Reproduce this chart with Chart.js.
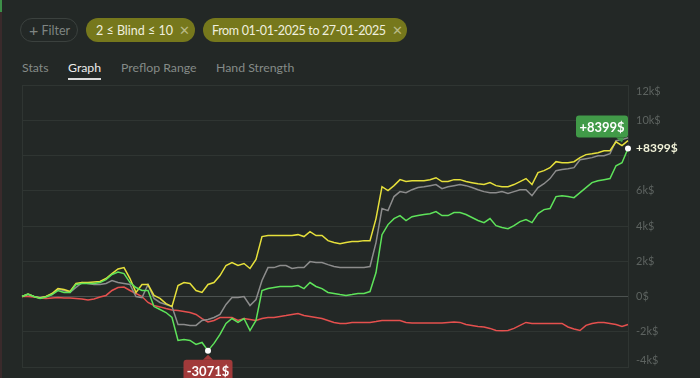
<!DOCTYPE html>
<html>
<head>
<meta charset="utf-8">
<script src="https://cdn.jsdelivr.net/npm/chart.js@4.4.1/dist/chart.umd.min.js"></script>
<style>
  html, body { margin: 0; padding: 0; background: #232826; }
  body { width: 700px; height: 378px; position: relative; overflow: hidden; font-family: Lato, "Noto Sans", sans-serif; }
  #graph { position: absolute; left: 0; top: 0; }
  .edge { position: absolute; left: 0; width: 2px; }
  .pill { position: absolute; top: 18px; height: 24px; border-radius: 12px; box-sizing: border-box;
          font-size: 12.5px; line-height: 24px; white-space: nowrap; }
  .pill.outline { border: 1px solid #3b413e; color: #7f8582; line-height: 22px; }
  .pill.on { background: #76781c; color: #efefdf; }
  .pill .x { color: #b9ba86; margin-left: 6px; font-size: 13px; }
  .tab { position: absolute; top: 60px; font-size: 12.3px; color: #858b88; }
  .tab.active { color: #ececec; }
  .tab.active::after { content: ""; position: absolute; left: 0; right: 0; top: 18px; height: 2px; background: #dcdcdc; }
</style>
</head>
<body>
<div class="edge" style="top:0;height:12px;background:#3d8f48"></div>
<div class="edge" style="top:12px;height:366px;background:#3a2a2b"></div>

<div class="pill outline" style="left:20px;width:58px;padding-left:8px"><span style="font-size:16px;vertical-align:-1px">+</span> Filter</div>
<div class="pill on" style="left:86px;width:109px;padding-left:10px">2 ≤ Blind ≤ 10<span class="x">✕</span></div>
<div class="pill on" style="left:203px;width:204px;padding-left:9px;letter-spacing:-0.35px">From 01-01-2025 to 27-01-2025<span class="x">✕</span></div>

<div class="tab" style="left:22px">Stats</div>
<div class="tab active" style="left:68px">Graph</div>
<div class="tab" style="left:121px">Preflop Range</div>
<div class="tab" style="left:216px">Hand Strength</div>

<canvas id="graph" width="700" height="378"></canvas>

<script>
// результаты по раздачам, k$
const netWon = [
  0, 0.14, 0, -0.11, -0.03, 0.11, 0.34, 0.23, 0.23, 0.68,
  0.74, 0.74, 0.74, 0.79, 0.96, 1.25, 1.39, 1.30, 0.79, 0.51,
  0.34, 0.34, -0.57, -0.74, -0.91, -1.19, -2.49, -2.44, -2.49, -2.72,
  -2.61, -3.071, -2.66, -2.15, -1.53, -1.25, -1.47, -1.25, -1.93, -1.36,
  0.34, 0.45, 0.51, 0.57, 0.57, 0.57, 0.62, 0.45, 0.79, 0.57,
  0.45, 0.23, 0.17, 0.11, 0.06, 0.11, 0.17, 0.17, 0.28, 1.36,
  3.51, 4.08, 4.42, 4.59, 4.31, 4.53, 4.59, 4.65, 4.70, 4.82,
  4.59, 4.59, 4.76, 4.76, 4.65, 4.48, 4.31, 4.19, 4.42, 4.02,
  3.91, 3.85, 4.02, 4.25, 4.36, 4.19, 4.70, 4.93, 4.99, 5.67,
  5.72, 5.67, 5.61, 5.89, 6.18, 6.46, 6.57, 6.63, 6.69, 7.42,
  7.59, 8.399
];
const showdown = [
  0, 0.14, 0, -0.08, 0, 0.17, 0.45, 0.40, 0.28, 0.74,
  0.79, 0.79, 0.82, 0.85, 1.02, 1.30, 1.56, 1.64, 1.02, 0.23,
  0.68, 0.68, 0.06, -0.11, -0.40, -0.57, 0.62, 0.79, 0.74, 0.34,
  0.23, 0.68, 0.79, 1.19, 1.76, 1.93, 1.76, 1.87, 1.59, 2.10,
  3.40, 3.46, 3.46, 3.46, 3.46, 3.46, 3.51, 3.40, 3.68, 3.46,
  3.46, 3.17, 3.06, 3.00, 3.06, 3.12, 3.12, 3.17, 3.17, 4.42,
  6.23, 6.01, 6.29, 6.63, 6.52, 6.57, 6.57, 6.57, 6.63, 6.74,
  6.52, 6.52, 6.63, 6.63, 6.52, 6.46, 6.40, 6.35, 6.46, 6.29,
  6.23, 6.23, 6.35, 6.52, 6.69, 6.35, 7.03, 7.14, 7.31, 7.65,
  7.59, 7.59, 7.65, 7.88, 8.05, 8.10, 8.16, 8.27, 8.27, 8.78,
  8.56, 8.84
];
const allInEV = [
  0, 0.11, 0, -0.06, 0, 0.11, 0.42, 0.34, 0.23, 0.51,
  0.79, 0.74, 0.68, 0.68, 0.74, 0.91, 0.79, 0.74, 0.68, 0,
  -0.06, 0.68, -0.11, -0.34, -0.45, -0.57, -1.59, -1.59, -1.64, -1.64,
  -1.36, -1.30, -1.19, -1.02, -0.45, -0.06, -0.06, 0, -0.51, -0.17,
  0.91, 1.64, 1.64, 1.76, 1.76, 1.59, 1.64, 1.64, 1.98, 1.93,
  1.93, 1.81, 1.70, 1.64, 1.64, 1.64, 1.64, 1.64, 1.70, 3.06,
  4.99, 4.87, 5.67, 5.95, 5.89, 6.06, 6.18, 6.23, 6.29, 6.35,
  6.12, 6.23, 6.29, 6.35, 6.29, 6.18, 6.06, 5.95, 5.89, 5.89,
  5.95, 5.84, 5.95, 6.06, 6.06, 5.72, 6.18, 6.40, 6.69, 7.14,
  7.20, 7.25, 7.31, 7.76, 7.82, 7.88, 7.99, 7.99, 8.10, 8.84,
  8.90, 9.01
];
const nonShowdown = [
  0, 0, -0.03, -0.08, -0.11, -0.08, -0.06, -0.08, -0.08, -0.11,
  -0.14, -0.20, -0.14, -0.03, 0.06, 0.34, 0.51, 0.54, 0.34, 0.17,
  0, -0.34, -0.51, -0.59, -0.68, -0.76, -0.79, -0.85, -0.91, -1.02,
  -1.25, -1.44, -1.36, -1.19, -1.19, -1.19, -1.36, -1.25, -1.30, -1.36,
  -1.25, -1.19, -1.19, -1.13, -1.08, -1.02, -0.96, -1.08, -1.13, -1.19,
  -1.25, -1.36, -1.47, -1.53, -1.53, -1.47, -1.47, -1.47, -1.47, -1.42,
  -1.36, -1.36, -1.36, -1.36, -1.47, -1.50, -1.50, -1.50, -1.50, -1.50,
  -1.50, -1.47, -1.44, -1.47, -1.59, -1.64, -1.70, -1.73, -1.81, -1.93,
  -1.95, -1.93, -1.81, -1.64, -1.47, -1.53, -1.53, -1.53, -1.53, -1.53,
  -1.53, -1.73, -1.84, -1.93, -1.64, -1.53, -1.47, -1.47, -1.53, -1.59,
  -1.70, -1.59
];
const hands = Array.from({ length: netWon.length }, (_, i) => i * 25);

const yMin = -4, yMax = 12, yStep = 2;

const lastIdx = netWon.length - 1;
const minIdx = netWon.indexOf(Math.min(...netWon));
const lastVal = netWon[lastIdx];

function fmtK(v) {
  return v === 0 ? "0$" : v + "k$";
}
function fmtMoney(v) {
  const n = Math.round(v * 1000);
  return (n > 0 ? "+" : "") + n + "$";
}

// рамка области графика
const frame = {
  id: "frame",
  beforeDatasetsDraw(chart) {
    const a = chart.chartArea, ctx = chart.ctx;
    ctx.save();
    ctx.strokeStyle = "#2f3532";
    ctx.lineWidth = 1;
    ctx.strokeRect(Math.round(a.left) + 0.5, Math.round(a.top) + 0.5, Math.round(a.right - a.left), Math.round(a.bottom - a.top));
    ctx.restore();
  }
};

// подписи максимума/минимума
const badges = {
  id: "badges",
  afterDatasetsDraw(chart) {
    const ctx = chart.ctx;
    const pts = chart.getDatasetMeta(0).data;
    const pEnd = pts[lastIdx], pMin = pts[minIdx];
    ctx.save();
    ctx.font = "bold 13px Lato, 'Noto Sans', sans-serif";
    ctx.textAlign = "center";
    ctx.textBaseline = "middle";

    // итог: зелёная плашка
    let w = 52, h = 22;
    let x = pEnd.x - w, y = pEnd.y - 11 - h;
    ctx.fillStyle = "#419a48";
    ctx.beginPath();
    ctx.roundRect(x, y, w, h, 3);
    ctx.fill();
    ctx.beginPath();
    ctx.moveTo(pEnd.x - 12, y + h);
    ctx.lineTo(pEnd.x - 4, y + h);
    ctx.lineTo(pEnd.x - 6, y + h + 5);
    ctx.fill();
    ctx.fillStyle = "#ffffff";
    ctx.fillText(fmtMoney(lastVal), x + w / 2, y + h / 2 + 1);

    // минимум: красная плашка
    w = 49;
    x = pMin.x - w / 2; y = pMin.y + 9;
    ctx.fillStyle = "#a13a3a";
    ctx.beginPath();
    ctx.roundRect(x, y, w, h, 3);
    ctx.fill();
    ctx.beginPath();
    ctx.moveTo(pMin.x - 5, y);
    ctx.lineTo(pMin.x + 5, y);
    ctx.lineTo(pMin.x, y - 5);
    ctx.fill();
    ctx.fillStyle = "#ffffff";
    ctx.fillText(fmtMoney(netWon[minIdx]), pMin.x, y + h / 2 + 1);

    // значение справа от оси
    ctx.font = "bold 12px Lato, 'Noto Sans', sans-serif";
    ctx.textAlign = "left";
    ctx.fillStyle = "#f1f2d8";
    ctx.fillText(fmtMoney(lastVal), chart.chartArea.right + 8, pEnd.y);
    ctx.restore();
  }
};

const line = (data, color) => ({
  data,
  borderColor: color,
  borderWidth: 1.5,
  pointRadius: 0,
  tension: 0,
  fill: false
});

const green = line(netWon, "#5ee35a");
green.pointRadius = netWon.map((_, i) => (i === lastIdx || i === minIdx ? 3 : 0));
green.pointBackgroundColor = "#ffffff";
green.pointBorderWidth = 0;

new Chart(document.getElementById("graph"), {
  type: "line",
  data: {
    labels: hands,
    datasets: [
      green,
      line(showdown, "#e6e03b"),
      line(allInEV, "#8c8c8c"),
      line(nonShowdown, "#e5504e")
    ]
  },
  options: {
    responsive: false,
    animation: false,
    layout: { padding: { left: 22, top: 85, bottom: 11, right: 0 } },
    plugins: { legend: { display: false }, tooltip: { enabled: false } },
    scales: {
      x: { display: false },
      y: {
        position: "right",
        min: yMin,
        max: yMax,
        afterFit: s => { s.width = 72; s.paddingTop = 0; s.paddingBottom = 0; },
        border: { display: false },
        grid: {
          drawTicks: false,
          color: c => (c.tick && c.tick.value === 0 ? "#4c5250" : "#2f3532")
        },
        ticks: {
          stepSize: yStep,
          padding: 8,
          color: "#5d6360",
          font: { family: "Lato, 'Noto Sans', sans-serif", size: 11 },
          // крайние подписи сдвигаем внутрь, подпись рядом с итогом скрываем
          callback: v => {
            if (Math.abs(v - lastVal) < 1) return "";
            if (v === yMax) return ["", fmtK(v)];
            if (v === yMin) return [fmtK(v), ""];
            return fmtK(v);
          }
        }
      }
    }
  },
  plugins: [frame, badges]
});
</script>
</body>
</html>
